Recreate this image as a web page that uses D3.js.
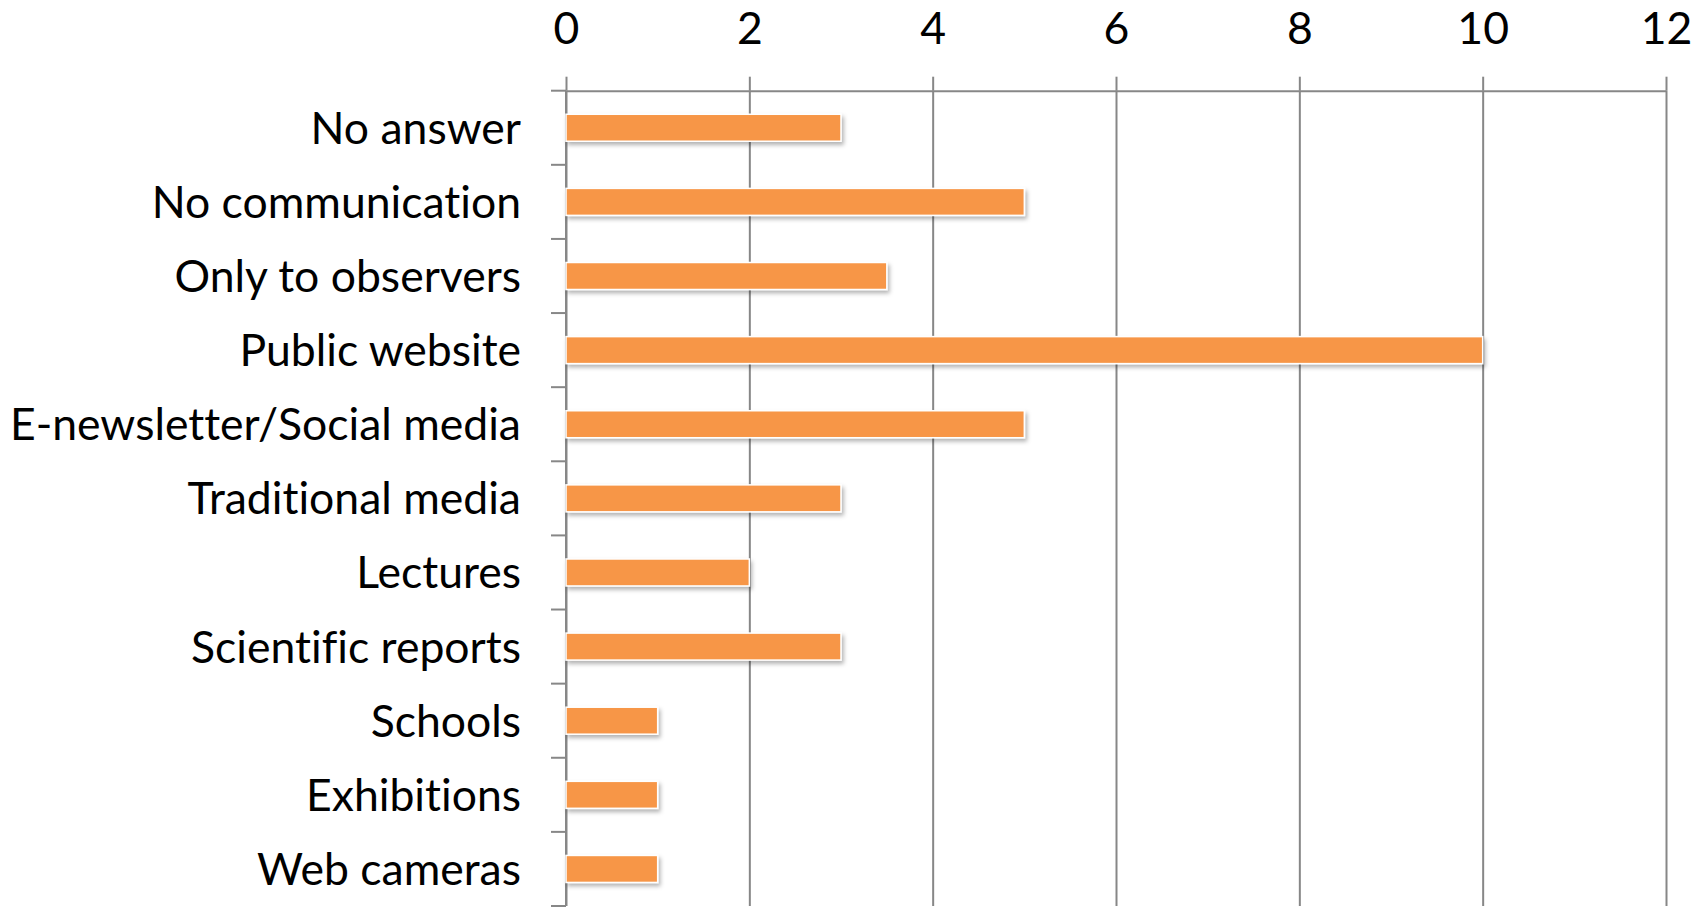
<!DOCTYPE html>
<html>
<head>
<meta charset="utf-8">
<script src="https://cdn.jsdelivr.net/npm/d3@7"></script>
<style>
  body { margin: 0; background: #fff; }
  svg text { font-family: Lato, 'Open Sans', sans-serif; fill: #000; font-variant-ligatures: none; }
</style>
</head>
<body>
<svg id="chart" width="1707" height="909"></svg>
<script>
const categories = [
  'No answer', 'No communication', 'Only to observers', 'Public website',
  'E-newsletter/Social media', 'Traditional media', 'Lectures',
  'Scientific reports', 'Schools', 'Exhibitions', 'Web cameras'
];
const values = [3, 5, 3.5, 10, 5, 3, 2, 3, 1, 1, 1];
const xTicks = [0, 2, 4, 6, 8, 10, 12];

const svg = d3.select('#chart');
const plotLeft = 566, plotRight = 1666, plotTop = 90.7, plotBottom = 906;
const axisColor = '#878787';
const fontSize = 44.5;

const x = d3.scaleLinear().domain([0, 12]).range([plotLeft, plotRight]);
const y = d3.scaleBand()
  .domain(categories)
  .range([plotTop, plotBottom])
  .paddingInner(0.636)
  .paddingOuter(0.318);

const defs = svg.append('defs');
const shadow = defs.append('filter').attr('id', 'shadow')
  .attr('x', '-5%').attr('y', '-30%').attr('width', '115%').attr('height', '180%');
shadow.append('feDropShadow')
  .attr('dx', 2).attr('dy', 3).attr('stdDeviation', 2)
  .attr('flood-color', '#000').attr('flood-opacity', 0.3);

// vertical gridlines
const grid = svg.append('g')
  .attr('transform', `translate(0, ${plotTop})`)
  .call(d3.axisTop(x).tickValues(xTicks).tickSize(-(plotBottom - plotTop)).tickFormat(''));
grid.select('.domain').remove();
grid.selectAll('line').attr('stroke', axisColor).attr('stroke-width', 2);

// top axis with labels
const xAxis = svg.append('g')
  .attr('transform', `translate(0, ${plotTop})`)
  .call(d3.axisTop(x).tickValues(xTicks).tickSize(14).tickPadding(33).tickSizeOuter(0));
xAxis.select('.domain').attr('stroke', axisColor).attr('stroke-width', 2);
xAxis.selectAll('line').attr('stroke', axisColor).attr('stroke-width', 2);
xAxis.selectAll('text').attr('font-size', fontSize).attr('fill', '#000');

// left axis line with ticks on band boundaries
const step = y.step();
const bounds = categories.map(c => y(c) + y.bandwidth() / 2 - step / 2).concat([plotBottom]);
svg.append('line')
  .attr('x1', plotLeft).attr('x2', plotLeft)
  .attr('y1', plotTop).attr('y2', plotBottom)
  .attr('stroke', axisColor).attr('stroke-width', 2);
svg.append('g').selectAll('line')
  .data(bounds)
  .enter()
  .append('line')
  .attr('x1', plotLeft - 15).attr('x2', plotLeft)
  .attr('y1', d => d).attr('y2', d => d)
  .attr('stroke', axisColor).attr('stroke-width', 2);

// bars
svg.append('g').selectAll('rect')
  .data(values)
  .enter()
  .append('rect')
  .attr('x', x(0))
  .attr('y', (d, i) => y(categories[i]))
  .attr('width', d => x(d) - x(0))
  .attr('height', y.bandwidth())
  .attr('fill', '#F79646')
  .attr('stroke', '#fff')
  .attr('stroke-width', 1.5)
  .attr('filter', 'url(#shadow)');

// category labels
svg.append('g').selectAll('text')
  .data(categories)
  .enter()
  .append('text')
  .attr('x', plotLeft - 45)
  .attr('y', d => y(d) + y.bandwidth() / 2)
  .attr('dy', 16)
  .attr('text-anchor', 'end')
  .attr('font-size', fontSize)
  .text(d => d);
</script>
</body>
</html>
